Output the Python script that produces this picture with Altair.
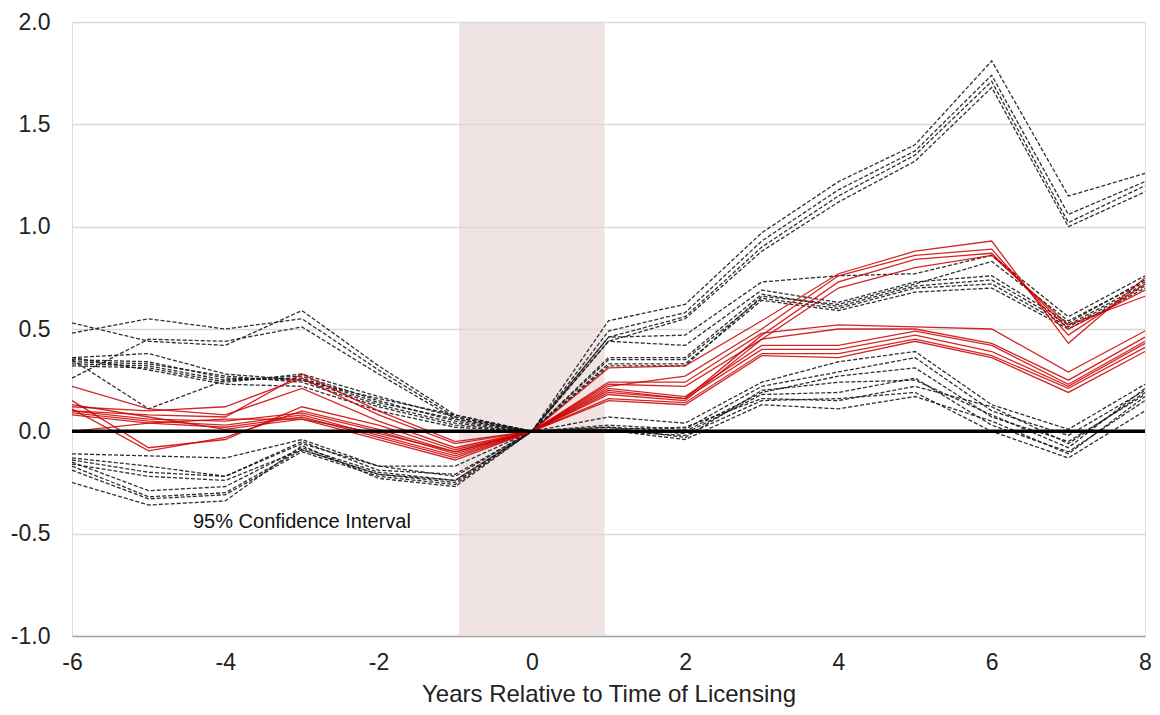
import altair as alt
import pandas as pd

years = [-6, -5, -4, -3, -2, -1, 0, 1, 2, 3, 4, 5, 6, 7, 8]

# point estimates (red solid lines)
estimates = {
    "A1": [0.10, 0.08, 0.07, 0.28, 0.10, -0.05, 0, 0.31, 0.32, 0.54, 0.77, 0.88, 0.93, 0.43, 0.75],
    "A2": [0.12, 0.10, 0.12, 0.26, 0.08, -0.06, 0, 0.22, 0.27, 0.50, 0.76, 0.86, 0.89, 0.47, 0.72],
    "A3": [0.22, 0.11, 0.08, 0.21, 0.05, -0.08, 0, 0.20, 0.16, 0.47, 0.73, 0.84, 0.87, 0.50, 0.69],
    "A4": [0.15, -0.08, -0.04, 0.12, 0.03, -0.09, 0, 0.18, 0.15, 0.45, 0.70, 0.80, 0.86, 0.52, 0.66],
    "B1": [0.11, -0.095, -0.03, 0.10, 0.01, -0.10, 0, 0.24, 0.24, 0.48, 0.52, 0.51, 0.50, 0.29, 0.49],
    "B2": [0.10, 0.06, 0.05, 0.09, 0.00, -0.11, 0, 0.23, 0.22, 0.45, 0.50, 0.50, 0.43, 0.25, 0.46],
    "B3": [0.09, 0.05, 0.03, 0.08, -0.02, -0.12, 0, 0.21, 0.17, 0.42, 0.42, 0.49, 0.42, 0.23, 0.44],
    "B4": [0.08, 0.04, 0.02, 0.07, -0.03, -0.13, 0, 0.19, 0.16, 0.40, 0.40, 0.47, 0.39, 0.22, 0.43],
    "B5": [0.13, 0.07, 0.01, 0.06, -0.04, -0.14, 0, 0.16, 0.14, 0.38, 0.38, 0.45, 0.37, 0.21, 0.41],
    "B6": [0.00, 0.04, 0.06, 0.06, -0.01, -0.10, 0, 0.15, 0.13, 0.37, 0.36, 0.44, 0.36, 0.19, 0.39],
}

# 95% confidence bounds (black dashed lines)
bounds = {
    "U1": [0.53, 0.44, 0.42, 0.59, 0.32, 0.08, 0, 0.54, 0.62, 0.97, 1.22, 1.40, 1.81, 1.15, 1.26],
    "U2": [0.48, 0.55, 0.50, 0.55, 0.30, 0.07, 0, 0.49, 0.58, 0.93, 1.18, 1.37, 1.74, 1.06, 1.22],
    "U3": [0.26, 0.45, 0.44, 0.51, 0.28, 0.06, 0, 0.46, 0.56, 0.90, 1.15, 1.35, 1.71, 1.02, 1.20],
    "U4": [0.35, 0.11, 0.25, 0.27, 0.15, 0.05, 0, 0.44, 0.55, 0.88, 1.12, 1.32, 1.68, 1.00, 1.17],
    "U5": [0.36, 0.38, 0.28, 0.25, 0.13, 0.04, 0, 0.46, 0.47, 0.73, 0.76, 0.77, 0.86, 0.56, 0.76],
    "U6": [0.34, 0.33, 0.27, 0.24, 0.12, 0.03, 0, 0.44, 0.42, 0.69, 0.63, 0.73, 0.76, 0.53, 0.74],
    "U7": [0.33, 0.32, 0.25, 0.26, 0.14, 0.06, 0, 0.36, 0.36, 0.67, 0.61, 0.71, 0.74, 0.52, 0.72],
    "U8": [0.32, 0.31, 0.24, 0.28, 0.17, 0.07, 0, 0.35, 0.35, 0.65, 0.60, 0.70, 0.72, 0.51, 0.71],
    "U9": [0.36, 0.30, 0.23, 0.22, 0.10, 0.02, 0, 0.33, 0.33, 0.64, 0.59, 0.68, 0.70, 0.50, 0.70],
    "U10": [0.35, 0.34, 0.26, 0.25, 0.16, 0.08, 0, 0.32, 0.32, 0.66, 0.62, 0.72, 0.83, 0.54, 0.73],
    "L1": [-0.11, -0.12, -0.13, -0.04, -0.17, -0.17, 0, 0.07, 0.04, 0.24, 0.34, 0.39, 0.13, 0.01, 0.23],
    "L2": [-0.13, -0.17, -0.22, -0.05, -0.19, -0.21, 0, 0.03, 0.01, 0.22, 0.29, 0.36, 0.10, -0.02, 0.20],
    "L3": [-0.14, -0.20, -0.22, -0.06, -0.17, -0.22, 0, 0.02, 0.00, 0.19, 0.27, 0.31, 0.07, -0.05, 0.18],
    "L4": [-0.15, -0.29, -0.27, -0.08, -0.20, -0.24, 0, 0.01, -0.01, 0.18, 0.19, 0.26, 0.03, -0.10, 0.15],
    "L5": [-0.17, -0.32, -0.30, -0.09, -0.21, -0.25, 0, 0.00, -0.02, 0.15, 0.16, 0.19, 0.00, -0.13, 0.10],
    "L6": [-0.19, -0.33, -0.31, -0.10, -0.22, -0.26, 0, 0.005, -0.04, 0.13, 0.11, 0.17, 0.05, -0.11, 0.17],
    "L7": [-0.25, -0.36, -0.34, -0.07, -0.23, -0.27, 0, 0.02, -0.03, 0.20, 0.24, 0.25, 0.08, -0.08, 0.21],
    "L8": [-0.16, -0.22, -0.24, -0.09, -0.21, -0.24, 0, 0.01, 0.02, 0.16, 0.15, 0.22, 0.12, -0.06, 0.19],
}

shade_x = [-0.95]
shade_x2 = [0.95]
shade_y = [-1.0]
shade_y2 = [2.0]

note_text = ["95% Confidence Interval"]
note_x = [-3.0]
note_y = [-0.445]

x_ticks = [-6, -4, -2, 0, 2, 4, 6, 8]
y_ticks = [-1.0, -0.5, 0.0, 0.5, 1.0, 1.5, 2.0]

est_df = pd.DataFrame(
    [{"year": yr, "value": v, "series": k} for k, vals in estimates.items() for yr, v in zip(years, vals)]
)
ci_df = pd.DataFrame(
    [{"year": yr, "value": v, "series": k} for k, vals in bounds.items() for yr, v in zip(years, vals)]
)
shade_df = pd.DataFrame({"x": shade_x, "x2": shade_x2, "y": shade_y, "y2": shade_y2})
note_df = pd.DataFrame({"text": note_text, "x": note_x, "y": note_y})
zero_df = pd.DataFrame({"x": [years[0], years[-1]], "y": [0.0, 0.0]})

xscale = alt.Scale(domain=[-6, 8], nice=False, zero=False)
yscale = alt.Scale(domain=[-1, 2], nice=False, zero=False)

xaxis = alt.Axis(
    values=x_ticks, grid=False, ticks=False, domain=True, domainColor="#a6a6a6", domainWidth=1.5,
    labelFontSize=23, labelPadding=15, labelColor="#222222", labelFont="Liberation Sans",
    labelFlush=False,
    labelExpr="(datum.value < 0 ? '-' : '') + format(abs(datum.value), 'd')",
    title="Years Relative to Time of Licensing", titleFontSize=24, titleFontWeight="normal",
    titleFont="Liberation Sans", titleColor="#222222", titlePadding=8,
)
yaxis = alt.Axis(
    values=y_ticks, grid=True, gridColor="#d9d9d9", gridWidth=1.5, ticks=False, domain=False,
    labelFontSize=23, labelPadding=22, labelColor="#222222", labelFont="Liberation Sans",
    labelFlush=False,
    labelExpr="(datum.value < 0 ? '-' : '') + format(abs(datum.value), '.1f')",
    title=None,
)

shade = alt.Chart(shade_df).mark_rect(color="#e8d4d6", opacity=0.65).encode(
    x=alt.X("x:Q", scale=xscale, axis=xaxis),
    x2="x2:Q",
    y=alt.Y("y:Q", scale=yscale, axis=yaxis),
    y2="y2:Q",
)

ci = alt.Chart(ci_df).mark_line(color="#1a1a1a", strokeWidth=1.3, strokeDash=[4, 2], opacity=0.9).encode(
    x=alt.X("year:Q", scale=xscale, axis=xaxis),
    y=alt.Y("value:Q", scale=yscale, axis=yaxis),
    detail="series:N",
)

est = alt.Chart(est_df).mark_line(color="#cc0000", strokeWidth=1.3, opacity=0.85).encode(
    x=alt.X("year:Q", scale=xscale, axis=xaxis),
    y=alt.Y("value:Q", scale=yscale, axis=yaxis),
    detail="series:N",
)

zero = alt.Chart(zero_df).mark_line(color="#000000", strokeWidth=3.5).encode(
    x=alt.X("x:Q", scale=xscale, axis=xaxis),
    y=alt.Y("y:Q", scale=yscale, axis=yaxis),
)

note = alt.Chart(note_df).mark_text(fontSize=20, font="Liberation Sans", color="#111111", align="center", baseline="middle").encode(
    x=alt.X("x:Q", scale=xscale, axis=xaxis),
    y=alt.Y("y:Q", scale=yscale, axis=yaxis),
    text="text:N",
)

chart = alt.layer(shade, ci, est, zero, note).properties(
    width=1073, height=614,
    autosize=alt.AutoSizeParams(type="none"),
    padding={"left": 64, "top": 14, "right": 7, "bottom": 71},
).configure_view(stroke=None).configure(background="white")

chart.save("out.html", embed_options={"renderer": "svg", "actions": False})
